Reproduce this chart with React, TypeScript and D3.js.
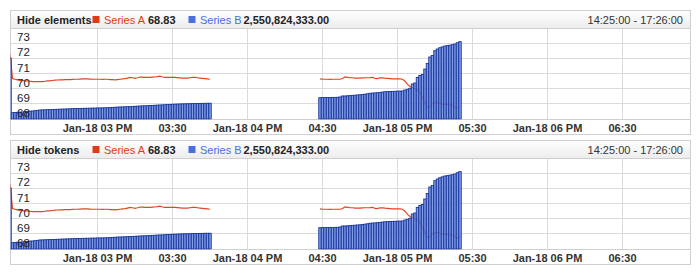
import React from "react";
import * as d3 from "d3";

// ---------- data ----------
const panelTitles = ["Hide elements", "Hide tokens"];
const seriesNames = ["Series A", "Series B"];
const timeRangeLabel = "14:25:00 - 17:26:00";

// segment start times (one point per minute)
const seg1Start = new Date(2018, 0, 18, 14, 25);
const seg2Start = new Date(2018, 0, 18, 16, 29);
const axisStart = new Date(2018, 0, 18, 14, 25);
const axisEnd = new Date(2018, 0, 18, 18, 57);

// Series A (left axis)
const seriesA1 = [
  72.29, 70.67, 70.62, 70.58, 70.55, 70.53, 70.51, 70.51, 70.49, 70.47,
  70.47, 70.46, 70.46, 70.47, 70.49, 70.51, 70.52, 70.54, 70.56, 70.57,
  70.58, 70.58, 70.59, 70.6, 70.6, 70.61, 70.62, 70.62, 70.63, 70.64,
  70.64, 70.64, 70.63, 70.62, 70.62, 70.62, 70.62, 70.61, 70.62, 70.62,
  70.6, 70.59, 70.58, 70.6, 70.62, 70.64, 70.66, 70.7, 70.74, 70.72,
  70.68, 70.72, 70.77, 70.76, 70.74, 70.74, 70.75, 70.76, 70.77, 70.8,
  70.82, 70.77, 70.74, 70.74, 70.75, 70.75, 70.74, 70.73, 70.71, 70.69,
  70.69, 70.7, 70.72, 70.74, 70.74, 70.72, 70.7, 70.68, 70.66, 70.64,
  70.62,
];
const seriesA2 = [
  70.64, 70.62, 70.62, 70.62, 70.61, 70.62, 70.62, 70.62, 70.62, 70.67,
  70.77, 70.75, 70.72, 70.72, 70.7, 70.7, 70.7, 70.71, 70.72, 70.72,
  70.73, 70.75, 70.68, 70.66, 70.72, 70.71, 70.69, 70.68, 70.66, 70.64,
  70.64, 70.64, 70.64, 70.62, 70.49, 70.28, 70.14, 70.05, 69.98, 69.91,
  69.75, 69.42, 69.09, 68.76, 68.79, 69.02, 69.08, 69.09, 69.04, 68.96,
  68.97, 68.98, 68.94, 68.89, 68.79, 68.73, 68.83,
];

// Series B (billions, right scale)
const seriesB1 = [
  2.01, 0.208, 0.214, 0.221, 0.227, 0.234, 0.244, 0.251, 0.257, 0.264,
  0.274, 0.284, 0.297, 0.3, 0.303, 0.307, 0.31, 0.313, 0.316, 0.32,
  0.323, 0.326, 0.33, 0.333, 0.336, 0.34, 0.343, 0.346, 0.346, 0.349,
  0.353, 0.353, 0.356, 0.359, 0.359, 0.363, 0.366, 0.366, 0.369, 0.373,
  0.376, 0.382, 0.386, 0.392, 0.396, 0.399, 0.402, 0.406, 0.409, 0.412,
  0.419, 0.422, 0.429, 0.432, 0.435, 0.438, 0.445, 0.448, 0.452, 0.458,
  0.462, 0.465, 0.471, 0.475, 0.478, 0.485, 0.488, 0.491, 0.495, 0.498,
  0.501, 0.504, 0.504, 0.508, 0.511, 0.511, 0.514, 0.514, 0.518, 0.518,
  0.518,
];
const seriesB2 = [
  0.702, 0.706, 0.706, 0.709, 0.709, 0.712, 0.712, 0.715, 0.725, 0.758,
  0.758, 0.765, 0.771, 0.778, 0.785, 0.791, 0.798, 0.808, 0.818, 0.831,
  0.847, 0.854, 0.86, 0.867, 0.877, 0.887, 0.897, 0.903, 0.907, 0.91,
  0.913, 0.917, 0.92, 0.923, 0.956, 0.979, 1.012, 1.154, 1.187, 1.368,
  1.434, 1.467, 1.648, 1.83, 2.044, 2.094, 2.252, 2.308, 2.351, 2.38,
  2.407, 2.42, 2.433, 2.45, 2.473, 2.516, 2.550824333,
];

const yTicksA = [68, 69, 70, 71, 72, 73];

// ---------- styles ----------
const FONT = "'Liberation Sans', Arial, sans-serif";
const colorA = "#e2451f";
const colorALegend = "#e03a14";
const colorB = "#4a6ee0";
const barFill = "#5f84e6";
const barStroke = "#1d3797";
const gridColor = "#dadada";
const borderColor = "#cfcfcf";

const W = 700;
const H = 280;
const left = 10.5;
const right = 690.5;

function toSeries(start: Date, values: number[]) {
  return values.map((v, i) => ({ t: d3.timeMinute.offset(start, i), v }));
}

const x = d3.scaleTime().domain([axisStart, axisEnd]).range([10, 690]);
const fmtHour = d3.timeFormat("%b-%d %I %p");
const fmtHalf = d3.timeFormat("%I:%M");
const xTicks = x
  .ticks(d3.timeMinute.every(30) as any)
  .filter((d) => d >= new Date(2018, 0, 18, 15, 0));

const lastA = seriesA2[seriesA2.length - 1];
const lastB = seriesB2[seriesB2.length - 1] * 1e9;

function Panel({ title, oy, idx }: { title: string; oy: number; idx: number }) {
  const top = oy + 10.5;
  const headerBottom = oy + 28.5;
  const plotBottom = oy + 119.5;
  const panelBottom = oy + 134.5;
  const yA = d3.scaleLinear().domain([68, 74]).range([oy + 119, oy + 28]);
  const yB = d3.scaleLinear().domain([0, 3]).range([oy + 119, oy + 28]);
  const line = d3
    .line<{ t: Date; v: number }>()
    .x((d) => x(d.t))
    .y((d) => yA(d.v));
  const segsA = [toSeries(seg1Start, seriesA1), toSeries(seg2Start, seriesA2)];
  const segsB = [toSeries(seg1Start, seriesB1), toSeries(seg2Start, seriesB2)];
  const bw = 2.5;
  const clipId = `clip${idx}`;
  const gradId = `hdr${idx}`;
  const hy = oy + 23.5;
  return (
    <g>
      <defs>
        <clipPath id={clipId}>
          <rect x={left} y={headerBottom} width={right - left} height={plotBottom - headerBottom} />
        </clipPath>
        <linearGradient id={gradId} x1="0" y1="0" x2="0" y2="1">
          <stop offset="0" stopColor="#ffffff" />
          <stop offset="1" stopColor="#ececec" />
        </linearGradient>
      </defs>
      <rect x={left} y={top} width={right - left} height={panelBottom - top} fill="#fff" stroke={borderColor} />
      <rect x={left} y={top} width={right - left} height={headerBottom - top} fill={`url(#${gradId})`} stroke={borderColor} />
      {/* grid */}
      {yTicksA.slice(1).map((t) => (
        <line key={t} x1={left} x2={right} y1={yA(t)} y2={yA(t)} stroke={gridColor} shapeRendering="crispEdges" />
      ))}
      {xTicks.map((t, i) => (
        <line key={i} x1={x(t)} x2={x(t)} y1={headerBottom} y2={plotBottom} stroke={gridColor} shapeRendering="crispEdges" />
      ))}
      <line x1={left} x2={right} y1={plotBottom} y2={plotBottom} stroke={borderColor} shapeRendering="crispEdges" />
      <g clipPath={`url(#${clipId})`}>
        {segsA.map((s, i) => (
          <path key={i} d={line(s) || ""} fill="none" stroke={colorA} strokeWidth={1.2} />
        ))}
        {segsB.map((s, si) =>
          s.map((d, i) => (
            <rect
              key={`${si}-${i}`}
              x={x(d.t) - bw / 2}
              y={yB(d.v)}
              width={bw}
              height={oy + 119 - yB(d.v)}
              fill={barFill}
              fillOpacity={0.8}
              stroke={barStroke}
              strokeWidth={0.9}
            />
          ))
        )}
      </g>
      {/* y labels */}
      {yTicksA.map((t) => (
        <text key={t} x={17} y={yA(t) - 2} fontSize={11.5} fontFamily={FONT} fill="#222">
          {t}
        </text>
      ))}
      {/* x labels */}
      {xTicks.map((t, i) => (
        <text
          key={i}
          x={x(t)}
          y={oy + 131.5}
          textAnchor="middle"
          fontSize={11}
          fontWeight="bold"
          fontFamily={FONT}
          fill="#333"
        >
          {t.getMinutes() === 0 ? fmtHour(t) : fmtHalf(t)}
        </text>
      ))}
      {/* header */}
      <g fontFamily={FONT} fontSize={11}>
        <text x={17} y={hy} fontWeight="bold" fill="#222">{title}</text>
        <rect x={92.5} y={oy + 16} width={7} height={7} fill={colorALegend} />
        <text x={104} y={hy} fill={colorALegend}>{seriesNames[0]}</text>
        <text x={148} y={hy} fontWeight="bold" fill="#222">{d3.format(".2f")(lastA)}</text>
        <rect x={188.5} y={oy + 16} width={7} height={7} fill={colorB} />
        <text x={200} y={hy} fill={colorB}>{seriesNames[1]}</text>
        <text x={243.5} y={hy} fontWeight="bold" fill="#222">{d3.format(",.2f")(lastB)}</text>
        <text x={683} y={hy} textAnchor="end" fill="#333">{timeRangeLabel}</text>
      </g>
    </g>
  );
}

export default function App() {
  return (
    <svg width={W} height={H} style={{ position: "absolute", left: 0, top: 0 }}>
      <rect width={W} height={H} fill="#fff" />
      {panelTitles.map((t, i) => (
        <Panel key={i} title={t} oy={i * 130} idx={i} />
      ))}
    </svg>
  );
}
